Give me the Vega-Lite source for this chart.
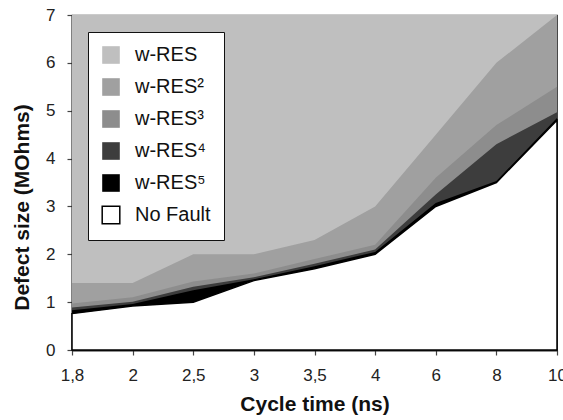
{
  "$schema": "https://vega.github.io/schema/vega-lite/v6.json",
  "width": 485,
  "height": 335,
  "autosize": {"type": "none"},
  "padding": {"left": 72, "top": 15, "right": 6, "bottom": 70},
  "background": "white",
  "config": {
    "font": "Liberation Sans",
    "view": {"stroke": "#333333", "strokeWidth": 1.2},
    "axis": {
      "labelFont": "Liberation Sans",
      "titleFont": "Liberation Sans",
      "labelFontSize": 17,
      "labelColor": "#222222",
      "titleFontSize": 21,
      "titleFontWeight": "bold",
      "titleColor": "#111111",
      "domainColor": "#222222",
      "domainWidth": 1.8,
      "tickColor": "#444444",
      "tickWidth": 1.2,
      "tickSize": 5,
      "grid": false
    }
  },
  "data": {
    "values": [
      {"x": "1,8", "series": "w-RES", "value": 7},
      {"x": "2", "series": "w-RES", "value": 7},
      {"x": "2,5", "series": "w-RES", "value": 7},
      {"x": "3", "series": "w-RES", "value": 7},
      {"x": "3,5", "series": "w-RES", "value": 7},
      {"x": "4", "series": "w-RES", "value": 7},
      {"x": "6", "series": "w-RES", "value": 7},
      {"x": "8", "series": "w-RES", "value": 7},
      {"x": "10", "series": "w-RES", "value": 7},
      {"x": "1,8", "series": "w-RES²", "value": 1.4},
      {"x": "2", "series": "w-RES²", "value": 1.4},
      {"x": "2,5", "series": "w-RES²", "value": 2.0},
      {"x": "3", "series": "w-RES²", "value": 2.0},
      {"x": "3,5", "series": "w-RES²", "value": 2.3},
      {"x": "4", "series": "w-RES²", "value": 3.0},
      {"x": "6", "series": "w-RES²", "value": 4.5},
      {"x": "8", "series": "w-RES²", "value": 6.0},
      {"x": "10", "series": "w-RES²", "value": 7.0},
      {"x": "1,8", "series": "w-RES³", "value": 0.97},
      {"x": "2", "series": "w-RES³", "value": 1.1},
      {"x": "2,5", "series": "w-RES³", "value": 1.43},
      {"x": "3", "series": "w-RES³", "value": 1.6},
      {"x": "3,5", "series": "w-RES³", "value": 1.9},
      {"x": "4", "series": "w-RES³", "value": 2.2},
      {"x": "6", "series": "w-RES³", "value": 3.6},
      {"x": "8", "series": "w-RES³", "value": 4.7},
      {"x": "10", "series": "w-RES³", "value": 5.5},
      {"x": "1,8", "series": "w-RES⁴", "value": 0.89},
      {"x": "2", "series": "w-RES⁴", "value": 1.01},
      {"x": "2,5", "series": "w-RES⁴", "value": 1.32},
      {"x": "3", "series": "w-RES⁴", "value": 1.52},
      {"x": "3,5", "series": "w-RES⁴", "value": 1.8},
      {"x": "4", "series": "w-RES⁴", "value": 2.1},
      {"x": "6", "series": "w-RES⁴", "value": 3.25},
      {"x": "8", "series": "w-RES⁴", "value": 4.3},
      {"x": "10", "series": "w-RES⁴", "value": 4.97},
      {"x": "1,8", "series": "w-RES⁵", "value": 0.83},
      {"x": "2", "series": "w-RES⁵", "value": 0.96},
      {"x": "2,5", "series": "w-RES⁵", "value": 1.25},
      {"x": "3", "series": "w-RES⁵", "value": 1.48},
      {"x": "3,5", "series": "w-RES⁵", "value": 1.75},
      {"x": "4", "series": "w-RES⁵", "value": 2.05},
      {"x": "6", "series": "w-RES⁵", "value": 3.07},
      {"x": "8", "series": "w-RES⁵", "value": 3.53},
      {"x": "10", "series": "w-RES⁵", "value": 4.85},
      {"x": "1,8", "series": "No Fault", "value": 0.76},
      {"x": "2", "series": "No Fault", "value": 0.92},
      {"x": "2,5", "series": "No Fault", "value": 1.0},
      {"x": "3", "series": "No Fault", "value": 1.45},
      {"x": "3,5", "series": "No Fault", "value": 1.7},
      {"x": "4", "series": "No Fault", "value": 2.0},
      {"x": "6", "series": "No Fault", "value": 3.0},
      {"x": "8", "series": "No Fault", "value": 3.5},
      {"x": "10", "series": "No Fault", "value": 4.8}
    ]
  },
  "encoding": {
    "x": {
      "field": "x",
      "type": "ordinal",
      "sort": null,
      "scale": {"type": "point", "padding": 0},
      "axis": {"title": "Cycle time (ns)", "labelAngle": 0, "labelPadding": 12, "titleY": 54, "titleBaseline": "middle"}
    },
    "y": {
      "field": "value",
      "type": "quantitative",
      "stack": null,
      "scale": {"domain": [0, 7], "nice": false},
      "axis": {"title": "Defect size (MOhms)", "values": [0, 1, 2, 3, 4, 5, 6, 7], "labelPadding": 12, "titleX": -50, "titleY": 192, "titleBaseline": "middle"}
    },
    "fill": {
      "field": "series",
      "type": "nominal",
      "scale": {
        "domain": ["w-RES", "w-RES²", "w-RES³", "w-RES⁴", "w-RES⁵", "No Fault"],
        "range": ["#bfbfbf", "#a0a0a0", "#8d8d8d", "#3d3d3d", "#000000", "#ffffff"]
      },
      "legend": {
        "title": null,
        "orient": "none",
        "legendX": 16,
        "legendY": 17,
        "fillColor": "white",
        "strokeColor": "#111111",
        "padding": 13,
        "symbolType": "square",
        "symbolSize": 310,
        "symbolStrokeWidth": 1.5,
        "labelFontSize": 20,
        "labelFont": "Liberation Sans",
        "labelColor": "#111111",
        "labelOffset": 14,
        "rowPadding": 8
      }
    },
    "stroke": {
      "field": "series",
      "type": "nominal",
      "scale": {
        "domain": ["w-RES", "w-RES²", "w-RES³", "w-RES⁴", "w-RES⁵", "No Fault"],
        "range": ["transparent", "transparent", "transparent", "transparent", "transparent", "#000000"]
      },
      "legend": {
        "title": null,
        "orient": "none",
        "legendX": 16,
        "legendY": 17,
        "fillColor": "white",
        "strokeColor": "#111111",
        "padding": 13,
        "symbolType": "square",
        "symbolSize": 310,
        "symbolStrokeWidth": 1.5,
        "labelFontSize": 20,
        "labelFont": "Liberation Sans",
        "labelColor": "#111111",
        "labelOffset": 14,
        "rowPadding": 8
      }
    }
  },
  "layer": [
    {"transform": [{"filter": {"field": "series", "equal": "w-RES"}}], "mark": {"type": "area", "strokeWidth": 1.5}},
    {"transform": [{"filter": {"field": "series", "equal": "w-RES²"}}], "mark": {"type": "area", "strokeWidth": 1.5}},
    {"transform": [{"filter": {"field": "series", "equal": "w-RES³"}}], "mark": {"type": "area", "strokeWidth": 1.5}},
    {"transform": [{"filter": {"field": "series", "equal": "w-RES⁴"}}], "mark": {"type": "area", "strokeWidth": 1.5}},
    {"transform": [{"filter": {"field": "series", "equal": "w-RES⁵"}}], "mark": {"type": "area", "strokeWidth": 1.5}},
    {"transform": [{"filter": {"field": "series", "equal": "No Fault"}}], "mark": {"type": "area", "strokeWidth": 1.5}}
  ]
}
